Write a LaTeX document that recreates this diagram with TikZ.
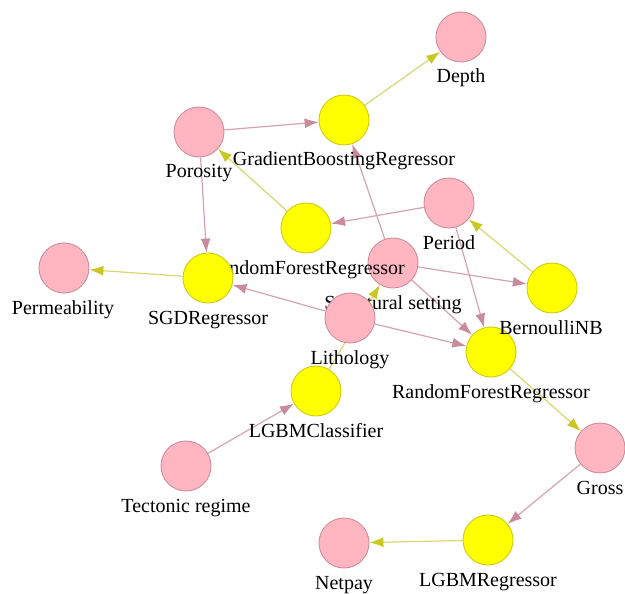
\documentclass[tikz,border=0pt]{standalone}
\usepackage{fontspec}
\setmainfont{Liberation Serif}
\usetikzlibrary{arrows.meta}
\pgfdeclarelayer{edges}
\pgfsetlayers{edges,main}

\definecolor{featfill}{HTML}{FFB6C1}
\definecolor{featline}{HTML}{CC8C9C}
\definecolor{modelfill}{HTML}{FFFF00}
\definecolor{modelline}{HTML}{CCCC10}
\definecolor{fedge}{HTML}{D4A3AF}
\definecolor{fhead}{HTML}{C98A9A}
\definecolor{medge}{HTML}{D6D672}
\definecolor{mhead}{HTML}{C8C820}

\begin{document}
\begin{tikzpicture}[x=1pt,y=-1pt,
  feat/.style={circle, minimum size=50pt, inner sep=0pt, fill=featfill, draw=featline, line width=0.9pt},
  model/.style={circle, minimum size=50pt, inner sep=0pt, fill=modelfill, draw=modelline, line width=0.9pt},
  lab/.style={anchor=base, inner sep=0pt, font=\fontsize{20}{24}\selectfont},
  f2m/.style={draw=fedge, line width=1.2pt, -{Latex[length=14pt,width=10pt,color=fhead]}},
  m2f/.style={draw=medge, line width=1.2pt, -{Latex[length=14pt,width=10pt,color=mhead]}}]

\useasboundingbox (0,0) rectangle (625,594);

% nodes, each followed by its label
\node[feat]  (depth) at (461,37) {};
\node[lab]   (depthL) at (461,83) {Depth};
\node[model] (gbr) at (344,120) {};
\node[lab]   (gbrL) at (344,166) {GradientBoostingRegressor};
\node[feat]  (poro) at (199,132) {};
\node[lab]   (poroL) at (199,178) {Porosity};
\node[feat]  (period) at (449,203) {};
\node[lab]   (periodL) at (449,249) {Period};
\node[feat]  (struct) at (393,263) {};
\node[lab]   (structL) at (393,309) {Structural setting};
\node[model] (rfa) at (306,228) {};
\node[lab]   (rfaL) at (306,274) {RandomForestRegressor};
\node[model] (sgd) at (208,278) {};
\node[lab]   (sgdL) at (208,324) {SGDRegressor};
\node[feat]  (perm) at (64,268) {};
\node[lab]   (permL) at (63,314) {Permeability};
\node[feat]  (lith) at (350,318) {};
\node[lab]   (lithL) at (350,364) {Lithology};
\node[model] (rfb) at (491,352) {};
\node[lab]   (rfbL) at (491,398) {RandomForestRegressor};
\node[model] (bnb) at (552,288) {};
\node[lab]   (bnbL) at (551,334) {BernoulliNB};
\node[model] (lgbc) at (316,391) {};
\node[lab]   (lgbcL) at (316,437) {LGBMClassifier};
\node[feat]  (tect) at (186,466) {};
\node[lab]   (tectL) at (186,512) {Tectonic regime};
\node[feat]  (gross) at (600,448) {};
\node[lab]   (grossL) at (600,494) {Gross};
\node[model] (lgbr) at (488,540) {};
\node[lab]   (lgbrL) at (488,586) {LGBMRegressor};
\node[feat]  (netpay) at (344,543) {};
\node[lab]   (netpayL) at (344,589) {Netpay};

% connectors, kept beneath the circles
\begin{pgfonlayer}{edges}
  \draw[f2m] (poro) -- (gbr);
  \draw[m2f] (gbr) -- (depth);
  \draw[m2f] (rfa) -- (poro);
  \draw[f2m] (poro) -- (sgd);
  \draw[m2f] (sgd) -- (perm);
  \draw[f2m] (period) -- (rfa);
  \draw[f2m] (period) -- (rfb);
  \draw[m2f] (bnb) -- (period);
  \draw[f2m] (struct) -- (gbr);
  \draw[f2m] (struct) -- (bnb);
  \draw[f2m] (struct) -- (rfb);
  \draw[m2f] (lgbc) -- (struct);
  \draw[f2m] (lith) -- (sgd);
  \draw[f2m] (lith) -- (rfb);
  \draw[f2m] (tect) -- (lgbc);
  \draw[m2f] (rfb) -- (gross);
  \draw[f2m] (gross) -- (lgbr);
  \draw[m2f] (lgbr) -- (netpay);
\end{pgfonlayer}
\end{tikzpicture}
\end{document}
